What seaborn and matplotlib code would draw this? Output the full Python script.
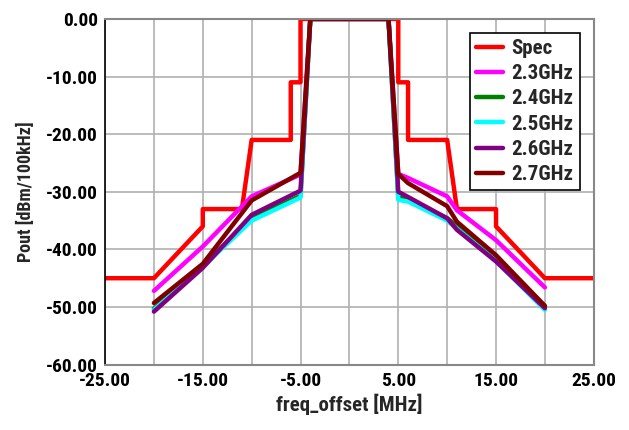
import pandas as pd
import matplotlib.pyplot as plt
import seaborn as sns
import numpy as np
from matplotlib import font_manager

# spec mask
spec_x = [-25, -20, -15, -15, -11, -10, -6, -6, -5, -5, 5, 5, 6, 6, 10, 11, 15, 15, 20, 25]
spec_y = [-45, -45, -36, -33, -33, -21, -21, -11, -11, 0, 0, -11, -11, -21, -21, -33, -33, -36, -45, -45]

# measured points (freq offset in MHz)
freq = [-20, -15, -10, -5, -4, 4, 5, 6, 10, 11, 15, 20]
p_23 = [-47.2, -39.5, -30.8, -27.0, 0, 0, -26.9, -27.6, -30.8, -33.2, -38.4, -46.6]
p_24 = [-50.3, -42.8, -34.6, -30.7, 0, 0, -31.0, -31.3, -34.6, -35.9, -41.3, -49.9]
p_25 = [-50.5, -43.0, -35.0, -31.0, 0, 0, -31.4, -31.7, -35.0, -36.4, -42.0, -50.5]
p_26 = [-50.8, -43.2, -34.0, -29.8, 0, 0, -30.0, -30.9, -34.6, -36.6, -42.1, -50.2]
p_27 = [-49.3, -42.5, -31.5, -26.7, 0, 0, -26.9, -28.5, -32.5, -35.2, -41.0, -49.8]

names = ["2.3GHz", "2.4GHz", "2.5GHz", "2.6GHz", "2.7GHz"]
series = [p_23, p_24, p_25, p_26, p_27]
colors = ["#FF00FF", "#008000", "#00FFFF", "#800080", "#800000"]

sns.set_style("white")

# pick a condensed font if one is installed
installed = {f.name for f in font_manager.fontManager.ttflist}
family = 'DejaVu Sans'
for cand in ['Liberation Sans Narrow', 'DejaVu Sans Condensed', 'Roboto Condensed',
             'Open Sans Condensed']:
    if cand in installed:
        family = cand
        break
plt.rcParams['font.family'] = [family, 'DejaVu Sans']
plt.rcParams['font.weight'] = 'bold'
plt.rcParams['font.stretch'] = 'condensed'

fig = plt.figure(figsize=(6.29, 4.30), dpi=100)
ax = fig.add_axes([0.167, 0.152, 0.777, 0.804])

sns.lineplot(x=spec_x, y=spec_y, ax=ax, color="#FF0000", lw=3.2, sort=False,
             estimator=None, label="Spec")
for name, vals, c in zip(names, series, colors):
    sns.lineplot(x=freq, y=vals, ax=ax, color=c, lw=3.2, sort=False,
                 estimator=None, label=name)

ax.set_xlim(-25, 25)
ax.set_ylim(-60, 0)
ax.set_xticks(range(-25, 26, 10))
ax.set_xticks(range(-20, 21, 10), minor=True)
ax.set_xticklabels([f"{v:.2f}" for v in range(-25, 26, 10)])
ax.set_yticks(range(-60, 1, 10))
ax.set_yticklabels([f"{v:.2f}" for v in range(-60, 1, 10)])
ax.grid(True, which='both', color='#B0B0B0', lw=1.2)
ax.tick_params(axis='both', which='both', direction='out', length=4,
               labelsize=14, pad=1, colors='black')
for lab in ax.get_xticklabels() + ax.get_yticklabels():
    lab.set_fontweight('bold')

for s in ['top', 'right', 'bottom']:
    ax.spines[s].set_color('#888888')
    ax.spines[s].set_linewidth(1.5)
ax.spines['left'].set_color('black')
ax.spines['left'].set_linewidth(1.2)

ax.set_xlabel("freq_offset [MHz]", fontsize=15, fontweight='bold', labelpad=3)
ax.set_ylabel("Pout [dBm/100kHz]", fontsize=13, fontweight='bold', labelpad=8)

leg = ax.legend(loc='upper right', bbox_to_anchor=(0.971, 0.96), borderaxespad=0,
                fancybox=False, edgecolor='black', framealpha=1, handlelength=1.3,
                handletextpad=0.4, borderpad=0.3, labelspacing=0.3,
                prop={'weight': 'bold', 'size': 15})
leg.get_frame().set_linewidth(1.2)

fig.savefig("out.png", dpi=100)
